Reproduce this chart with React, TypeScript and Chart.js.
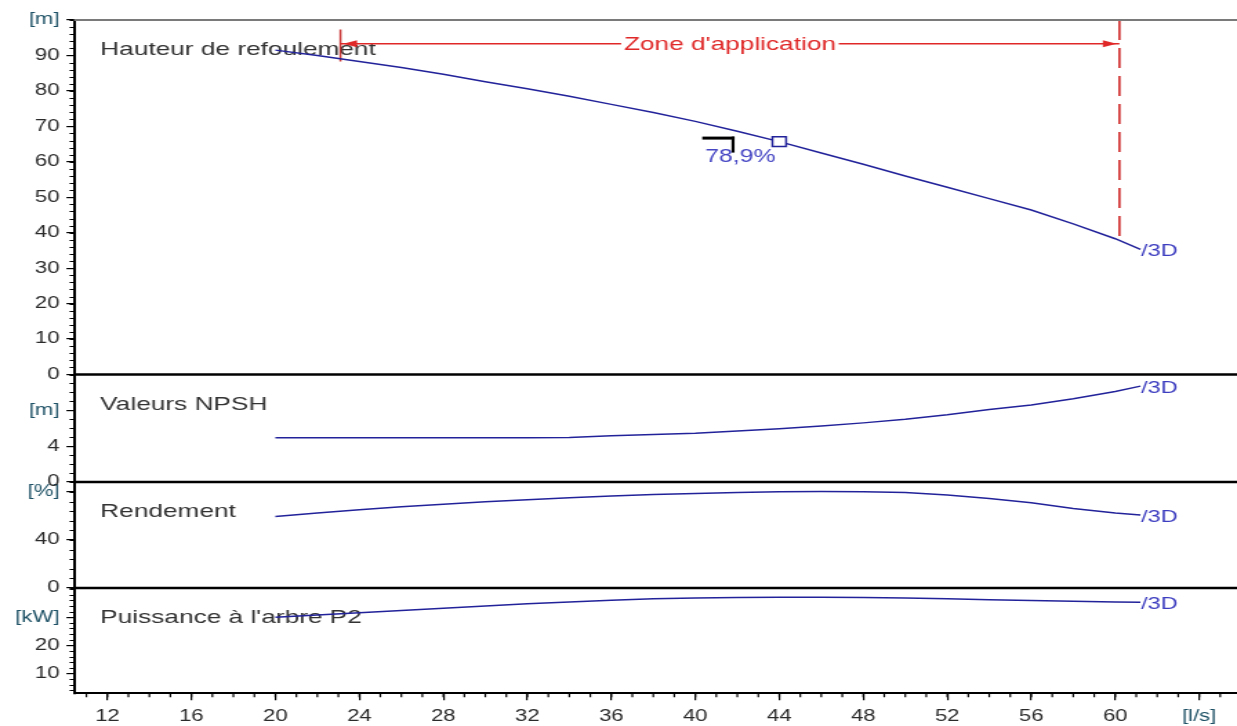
import React, { useEffect, useRef } from "react";
import { Chart, registerables } from "chart.js";

Chart.register(...registerables);

// ---------- data ----------
const flowLs = [20, 22, 24, 26, 28, 30, 32, 34, 36, 38, 40, 42, 44, 46, 48, 50, 52, 54, 56, 58, 60, 61.2];
const headM = [91.5, 90.0, 88.3, 86.6, 84.7, 82.6, 80.6, 78.5, 76.2, 73.9, 71.4, 68.6, 65.7, 62.5, 59.3, 56.0, 52.8, 49.6, 46.4, 42.5, 38.3, 35.3];
const npshM = [4.95, 4.95, 4.95, 4.95, 4.95, 4.95, 4.95, 4.97, 5.15, 5.3, 5.45, 5.7, 5.95, 6.25, 6.6, 7.0, 7.5, 8.1, 8.6, 9.3, 10.1, 10.7];
const efficiencyPct = [59.5, 62.5, 65.2, 67.6, 69.8, 71.8, 73.6, 75.2, 76.6, 77.8, 78.8, 79.6, 80.1, 80.3, 80.1, 79.5, 77.5, 74.5, 71.0, 66.3, 62.5, 60.8];
const powerKW = [30.0, 30.8, 31.6, 32.4, 33.2, 34.0, 34.8, 35.5, 36.1, 36.6, 36.9, 37.1, 37.2, 37.2, 37.1, 36.9, 36.6, 36.3, 36.0, 35.7, 35.5, 35.4];

const curveEndLabel = "/3D";
const panelTitles = ["Hauteur de refoulement", "Valeurs NPSH", "Rendement", "Puissance à l'arbre P2"];

const zoneLabel = "Zone d'application";
const zoneStartLs = 23.1;
const zoneEndLs = 60.2;
const zoneLineM = 93.3;
const zoneTickTopM = 97.3;
const zoneTickBottomM = 88.3;
const zoneDashTopM = 100;
const zoneDashBottomM = 37.8;

const opPointLs = 44;
const opPointM = 65.7;
const opPointLabel = "78,9%";

// axes
const xMin = 10.41;
const xMax = 65.8;
const xTicks = [12, 16, 20, 24, 28, 32, 36, 40, 44, 48, 52, 56, 60, 64];
const xTickLabels = ["12", "16", "20", "24", "28", "32", "36", "40", "44", "48", "52", "56", "60", "[l/s]"];

const headRange = [0, 100];
const headTicks = [0, 10, 20, 30, 40, 50, 60, 70, 80, 90, 100];
const headTickLabels = ["0", "10", "20", "30", "40", "50", "60", "70", "80", "90", "[m]"];

const npshRange = [0, 12];
const npshTicks = [0, 4, 8];
const npshTickLabels = ["0", "4", "[m]"];

const effRange = [0, 88.3];
const effTicks = [0, 40, 80];
const effTickLabels = ["0", "40", "[%]"];

const powerRange = [2.86, 40.46];
const powerTicks = [10, 20, 30];
const powerTickLabels = ["10", "20", "[kW]"];

// ---------- layout / style ----------
const CW = 896; // canvas drawing width (stretched horizontally to 1237 by CSS)
const CH = 726;
const AXIS_W = 53.6;
const XAXIS_H = 32.7;
const FONT = "'Liberation Sans', Arial, Helvetica, sans-serif";
const CURVE = "#22229a";
const LABEL_BLUE = "#3d3dc0";
const RED = "#e02828";
const TEXT = "#333333";
const UNIT = "#1f5266";

const pts = (xs: number[], ys: number[]) => xs.map((x, i) => ({ x, y: ys[i] }));

const yAxis = (
  min: number,
  max: number,
  ticks: number[],
  labels: string[],
  weight: number
) => ({
  type: "linear",
  axis: "y",
  position: "left",
  stack: "pump",
  stackWeight: weight,
  min,
  max,
  afterBuildTicks: (s: any) => {
    s.ticks = ticks.map((v) => ({ value: v }));
  },
  afterFit: (s: any) => {
    s.width = AXIS_W;
  },
  ticks: {
    autoSkip: false,
    padding: 5,
    font: { family: FONT, size: 16 },
    color: (c: any) => (c.tick && String(c.tick.label).startsWith("[") ? UNIT : "#2a2a2a"),
    callback: (v: any) => {
      const i = ticks.indexOf(Number(v));
      return i >= 0 ? labels[i] : "";
    },
  },
  grid: { drawOnChartArea: false, drawTicks: true, tickLength: 5.5, color: "#000", lineWidth: 1.2 },
  border: { display: true, color: "#000", width: 2 },
});

const annotPlugin = {
  id: "pumpAnnotations",
  beforeDatasetsDraw(chart: any) {
    const { ctx, chartArea } = chart;
    ctx.save();
    ctx.font = `19px ${FONT}`;
    ctx.fillStyle = TEXT;
    ctx.textAlign = "left";
    ctx.textBaseline = "middle";
    ["yH", "yN", "yR", "yP"].forEach((id, i) => {
      const s = chart.scales[id];
      ctx.fillText(panelTitles[i], chartArea.left + 19, s.top + 30);
    });
    ctx.restore();
  },
  afterDatasetsDraw(chart: any) {
    const { ctx } = chart;
    const xs = chart.scales.x;
    const yH = chart.scales.yH;
    ctx.save();

    // zone label with white background
    const zx = xs.getPixelForValue((zoneStartLs + zoneEndLs) / 2);
    const zy = yH.getPixelForValue(zoneLineM);
    ctx.font = `19px ${FONT}`;
    const w = ctx.measureText(zoneLabel).width;
    ctx.fillStyle = "#fff";
    ctx.fillRect(zx - w / 2 - 2, zy - 9, w + 4, 18);
    ctx.fillStyle = RED;
    ctx.textAlign = "center";
    ctx.textBaseline = "middle";
    ctx.fillText(zoneLabel, zx, zy + 1);

    // arrow heads
    const xa = xs.getPixelForValue(zoneStartLs);
    const xb = xs.getPixelForValue(zoneEndLs);
    ctx.beginPath();
    ctx.moveTo(xa + 2, zy);
    ctx.lineTo(xa + 12, zy - 3.5);
    ctx.lineTo(xa + 12, zy + 3.5);
    ctx.closePath();
    ctx.moveTo(xb - 2, zy);
    ctx.lineTo(xb - 12, zy - 3.5);
    ctx.lineTo(xb - 12, zy + 3.5);
    ctx.closePath();
    ctx.fill();

    // operating point bracket + label
    const px = xs.getPixelForValue(opPointLs);
    const py = yH.getPixelForValue(opPointM);
    ctx.fillStyle = "#000";
    ctx.fillRect(px - 55.8, py - 5, 23.4, 3);
    ctx.fillRect(px - 34.6, py - 5, 2.2, 16);
    ctx.fillStyle = "#4646c4";
    ctx.font = `18px ${FONT}`;
    ctx.textAlign = "center";
    ctx.fillText(opPointLabel, px - 28.3, py + 15);

    // "/3D" curve labels
    ctx.font = `17px ${FONT}`;
    ctx.fillStyle = LABEL_BLUE;
    ctx.textAlign = "left";
    for (let i = 0; i < 4; i++) {
      const meta = chart.getDatasetMeta(i);
      const last = meta.data[meta.data.length - 1];
      ctx.fillText(curveEndLabel, last.x + 0.5, last.y + 2);
    }
    ctx.restore();
  },
  afterDraw(chart: any) {
    const { ctx, chartArea } = chart;
    ctx.save();
    // minor ticks
    ctx.strokeStyle = "#000";
    ctx.lineWidth = 1.2;
    ctx.beginPath();
    const minorY: [string, number][] = [["yH", 2], ["yN", 1], ["yR", 8], ["yP", 2]];
    minorY.forEach(([id, step]) => {
      const s = chart.scales[id];
      const i0 = Math.ceil(s.min / step);
      const i1 = Math.floor(s.max / step + 1e-9);
      for (let i = i0; i <= i1; i++) {
        const y = Math.round(s.getPixelForValue(i * step)) + 0.5;
        ctx.moveTo(s.right - 3.2, y);
        ctx.lineTo(s.right, y);
      }
    });
    const xs = chart.scales.x;
    for (let v = Math.ceil(xs.min); v <= Math.floor(xs.max); v++) {
      const x = xs.getPixelForValue(v);
      ctx.moveTo(x, xs.top);
      ctx.lineTo(x, xs.top + 4);
    }
    ctx.stroke();

    // panel separators
    ctx.strokeStyle = "#000";
    ctx.lineWidth = 2.5;
    ctx.beginPath();
    ["yH", "yN", "yR"].forEach((id) => {
      const y = chart.scales[id].bottom;
      ctx.moveTo(chartArea.left, y);
      ctx.lineTo(chart.width, y);
    });
    ctx.stroke();
    // top frame
    ctx.strokeStyle = "#7a7a7a";
    ctx.lineWidth = 2;
    ctx.beginPath();
    ctx.moveTo(chartArea.left, chartArea.top);
    ctx.lineTo(chart.width, chartArea.top);
    ctx.stroke();
    ctx.restore();
  },
};

export default function App() {
  const ref = useRef<HTMLCanvasElement>(null);

  useEffect(() => {
    const canvas = ref.current;
    if (!canvas) return;
    const curve = (data: any, yAxisID: string) => ({
      data,
      yAxisID,
      xAxisID: "x",
      borderColor: CURVE,
      borderWidth: 1.5,
      pointRadius: 0,
      tension: 0,
      fill: false,
    });
    const chart = new Chart(canvas, {
      type: "line",
      data: {
        datasets: [
          curve(pts(flowLs, headM), "yH"),
          curve(pts(flowLs, npshM), "yN"),
          curve(pts(flowLs, efficiencyPct), "yR"),
          curve(pts(flowLs, powerKW), "yP"),
          {
            data: [{ x: opPointLs, y: opPointM }],
            yAxisID: "yH",
            xAxisID: "x",
            showLine: false,
            pointStyle: "rect",
            pointRadius: 7,
            pointBorderWidth: 1.5,
            pointBorderColor: CURVE,
            pointBackgroundColor: "#fff",
            order: -1,
          },
          {
            data: [{ x: zoneStartLs, y: zoneLineM }, { x: zoneEndLs, y: zoneLineM }],
            yAxisID: "yH",
            xAxisID: "x",
            borderColor: RED,
            borderWidth: 1.5,
            pointRadius: 0,
          },
          {
            data: [{ x: zoneStartLs, y: zoneTickTopM }, { x: zoneStartLs, y: zoneTickBottomM }],
            yAxisID: "yH",
            xAxisID: "x",
            borderColor: "#c83030",
            borderWidth: 1.5,
            pointRadius: 0,
          },
          {
            data: [{ x: zoneEndLs, y: zoneDashTopM }, { x: zoneEndLs, y: zoneDashBottomM }],
            yAxisID: "yH",
            xAxisID: "x",
            borderColor: "#d02a2a",
            borderWidth: 1.6,
            borderDash: [20, 8],
            pointRadius: 0,
          },
        ],
      } as any,
      options: {
        responsive: false,
        maintainAspectRatio: false,
        animation: false,
        devicePixelRatio: 1,
        layout: { autoPadding: false, padding: { top: 20, left: 0, right: 0, bottom: 0 } },
        plugins: { legend: { display: false }, tooltip: { enabled: false } },
        events: [],
        scales: {
          x: {
            type: "linear",
            position: "bottom",
            min: xMin,
            max: xMax,
            afterBuildTicks: (s: any) => {
              s.ticks = xTicks.map((v) => ({ value: v }));
            },
            afterFit: (s: any) => {
              s.height = XAXIS_H;
              s.paddingLeft = 0;
              s.paddingRight = 0;
            },
            ticks: {
              autoSkip: false,
              maxRotation: 0,
              padding: 7,
              font: { family: FONT, size: 16 },
              color: (c: any) => (c.tick && String(c.tick.label).startsWith("[") ? UNIT : "#2a2a2a"),
              callback: (v: any) => {
                const i = xTicks.indexOf(Number(v));
                return i >= 0 ? xTickLabels[i] : "";
              },
            },
            grid: { drawOnChartArea: false, drawTicks: true, tickLength: 7, color: "#000", lineWidth: 1.2 },
            border: { display: true, color: "#000", width: 2 },
          },
          yP: yAxis(powerRange[0], powerRange[1], powerTicks, powerTickLabels, 105.3),
          yR: yAxis(effRange[0], effRange[1], effTicks, effTickLabels, 106),
          yN: yAxis(npshRange[0], npshRange[1], npshTicks, npshTickLabels, 107.5),
          yH: yAxis(headRange[0], headRange[1], headTicks, headTickLabels, 354.5),
        } as any,
      },
      plugins: [annotPlugin],
    } as any);
    return () => chart.destroy();
  }, []);

  return (
    <div style={{ position: "fixed", left: 0, top: 0, width: 1237, height: 726, background: "#fff" }}>
      <canvas
        ref={ref}
        width={CW}
        height={CH}
        style={{ display: "block", width: "1237px", height: "726px" }}
      />
    </div>
  );
}
